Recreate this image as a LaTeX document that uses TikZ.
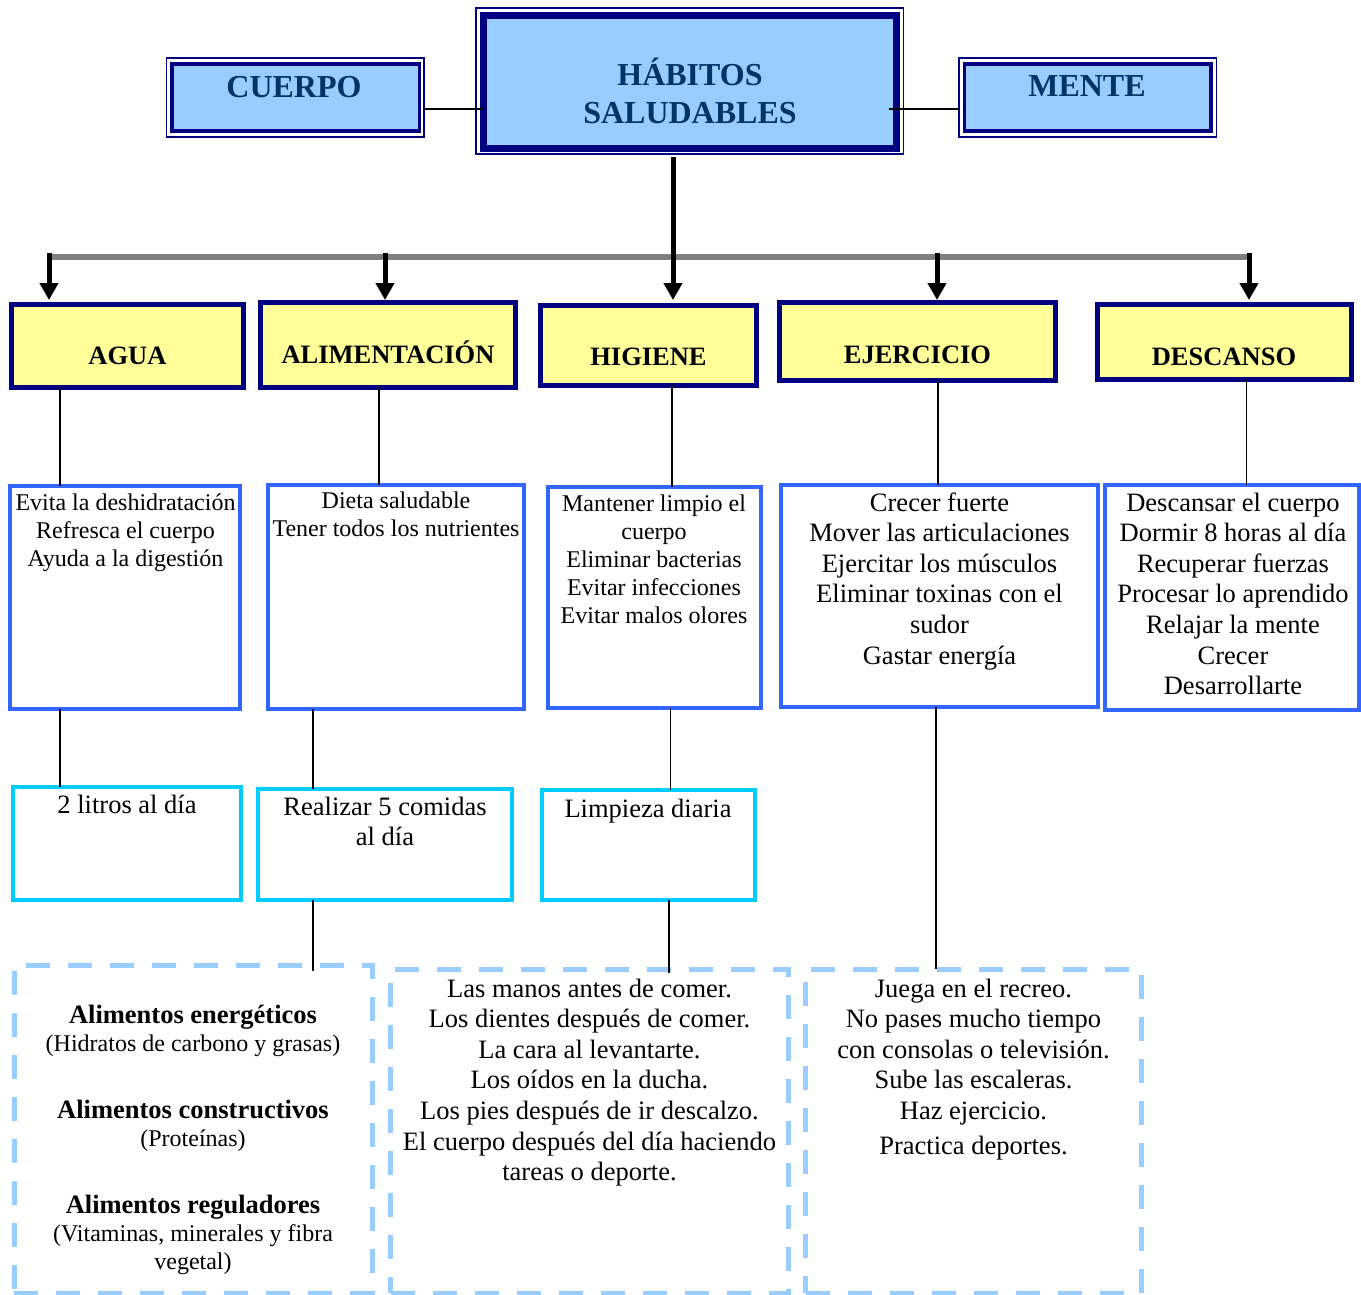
\documentclass[tikz,border=0pt]{standalone}
\usepackage{fontspec}
\setmainfont{Liberation Serif}
\usetikzlibrary{arrows.meta}
\definecolor{navy}{HTML}{000080}
\definecolor{lblue}{HTML}{99CCFF}
\definecolor{yel}{HTML}{FFFF99}
\definecolor{bstroke}{HTML}{3366FF}
\definecolor{cstroke}{HTML}{00CCFF}
\definecolor{dstroke}{HTML}{99CCFF}
\definecolor{ttl}{HTML}{003366}
\definecolor{bargray}{HTML}{808080}
\newcommand\ml[1]{\begin{tabular}[t]{@{}c@{}}#1\end{tabular}}
\newcommand\tbigf{\fontsize{26.5}{28}\selectfont\bfseries}
\newcommand\bx[6]{\node[#1, minimum width={#5-#3}, minimum height={#6-#4}] (#2) at ({(#3+#5)/2},{(#4+#6)/2}) {};}
\begin{document}
\begin{tikzpicture}[x=1pt,y=-1pt,
  every node/.style={inner sep=0pt, outer sep=0pt},
  navyout/.style={draw=navy, line width=1.5pt, fill=white},
  navyin/.style={draw=navy, line width=7pt, fill=lblue},
  navyinS/.style={draw=navy, line width=3.5pt, fill=lblue},
  ybox/.style={draw=navy, line width=5.5pt, fill=yel},
  bbox/.style={draw=bstroke, line width=4pt, fill=white},
  cbox/.style={draw=cstroke, line width=4pt, fill=white},
  dbox/.style={draw=dstroke, line width=5pt, dash pattern=on 24pt off 18pt},
  conn/.style={draw=black, line width=1.5pt},
  bar/.style={draw=bargray, line width=5.5pt},
  arr/.style={draw=black, line width=5pt, -{Triangle[width=18pt,length=17pt]}},
  ttlt/.style={anchor=base, text=ttl, font=\fontsize{32}{38}\selectfont\bfseries},
  ylab/.style={anchor=base, font=\fontsize{26.5}{30}\selectfont\bfseries},
  tsm/.style={anchor=base, font=\fontsize{24}{28}\selectfont},
  tlg/.style={anchor=base, font=\fontsize{26.5}{30.6}\selectfont},
  tgrp/.style={anchor=base, font=\fontsize{24}{28.2}\selectfont}
]
\fill[white] (0,0) rectangle (1361,1295);
\useasboundingbox (0,0) rectangle (1361,1295);

% top boxes
\bx{navyout}{habO}{476}{8}{903.5}{154}
\bx{navyin}{hab}{483.5}{15.5}{896.5}{148.5}
\node[ttlt] (habT) at (690,86) {\ml{HÁBITOS\\SALUDABLES}};
\bx{navyout}{cuO}{166.25}{58.25}{423.75}{137.25}
\bx{navyinS}{cu}{171.75}{64.25}{419.25}{131.25}
\node[ttlt] (cuT) at (294,98) {CUERPO};
\bx{navyout}{meO}{958.75}{58.25}{1216.25}{137.25}
\bx{navyinS}{me}{964.25}{64.25}{1210.75}{131.25}
\node[ttlt] (meT) at (1087,97) {MENTE};

% yellow boxes
\bx{ybox}{agY}{11.5}{304.5}{243.5}{387.5}
\bx{ybox}{alY}{260.5}{302.5}{515.5}{387.5}
\bx{ybox}{hiY}{540.5}{305.5}{756.5}{385.5}
\bx{ybox}{ejY}{779.5}{302.5}{1055.5}{380.5}
\bx{ybox}{deY}{1097.5}{304.5}{1351.5}{379.5}
\node[ylab] (agL) at (127.5,364) {AGUA};
\node[ylab] (alL) at (388,363) {ALIMENTACIÓN};
\node[ylab] (hiL) at (648.5,365) {HIGIENE};
\node[ylab] (ejL) at (917.5,363) {EJERCICIO};
\node[ylab] (deL) at (1224,365) {DESCANSO};

% blue boxes
\bx{bbox}{agB}{10}{486}{240}{709}
\bx{bbox}{alB}{268}{485}{524}{709}
\bx{bbox}{hiB}{548}{487}{761}{708}
\bx{bbox}{ejB}{781}{485}{1098}{707}
\bx{bbox}{deB}{1105}{485}{1359}{710}
\node[tsm] (agT) at (125.5,510) {\ml{Evita la deshidratación\\Refresca el cuerpo\\Ayuda a la digestión}};
\node[tsm] (alT) at (396,508) {\ml{Dieta saludable\\Tener todos los nutrientes}};
\node[tsm] (hiT) at (654,511) {\ml{Mantener limpio el\\cuerpo\\Eliminar bacterias\\Evitar infecciones\\Evitar malos olores}};
\node[tlg] (ejT) at (939.5,511) {\ml{Crecer fuerte\\Mover las articulaciones\\Ejercitar los músculos\\Eliminar toxinas con el\\sudor\\Gastar energía}};
\node[tlg] (deT) at (1233,511) {\ml{Descansar el cuerpo\\Dormir 8 horas al día\\Recuperar fuerzas\\Procesar lo aprendido\\Relajar la mente\\Crecer\\Desarrollarte}};

% cyan boxes
\bx{cbox}{agC}{13}{787}{241}{900}
\bx{cbox}{alC}{258}{789}{512}{900}
\bx{cbox}{hiC}{541.5}{790}{755}{900}
\node[tlg] (agCT) at (127,813) {2 litros al día};
\node[tlg] (alCT) at (385,815) {\ml{Realizar 5 comidas\\al día}};
\node[tlg] (hiCT) at (648,817) {Limpieza diaria};

% dashed boxes
\bx{dbox}{d1}{14}{965}{372}{1293}
\bx{dbox}{d2}{390.5}{969}{788.5}{1293}
\bx{dbox}{d3}{805.8}{969}{1141.5}{1293}
\node[tgrp] (d1a) at (193,1023.3) {\ml{{\tbigf Alimentos energéticos}\\(Hidratos de carbono y grasas)}};
\node[tgrp] (d1b) at (193,1118) {\ml{{\tbigf Alimentos constructivos}\\(Proteínas)}};
\node[tgrp] (d1c) at (193,1213) {\ml{{\tbigf Alimentos reguladores}\\(Vitaminas, minerales y fibra\\vegetal)}};
\node[tlg] (d2T) at (589.5,997) {\ml{Las manos antes de comer.\\Los dientes después de comer.\\La cara al levantarte.\\Los oídos en la ducha.\\Los pies después de ir descalzo.\\El cuerpo después del día haciendo\\tareas o deporte.}};
\node[tlg] (d3T) at (973.5,997) {\ml{Juega en el recreo.\\No pases mucho tiempo\\con consolas o televisión.\\Sube las escaleras.\\Haz ejercicio.\\[4.5pt]Practica deportes.}};

% connectors top
\coordinate (lv) at (0,109);
\draw[conn] (cuO.east |- lv) -- (hab.west |- lv);
\draw[conn] ([xshift=-7.5pt]hab.east |- lv) -- (meO.west |- lv);

% grey bar and arrows
\coordinate (g1) at (48,257);
\coordinate (g2) at (1251,257);
\draw[bar] (g1) -- (g2);
\coordinate (xh) at (673,0);
\draw[arr] ([yshift=-3pt]habO.south -| xh) -- ([yshift=5.5pt]hiY.north -| xh);
\coordinate (a1) at (49,253);
\coordinate (a2) at (385,253);
\coordinate (a4) at (937,253);
\coordinate (a5) at (1249,253);
\draw[arr] (a1) -- ([yshift=4.5pt]agY.north -| a1);
\draw[arr] (a2) -- ([yshift=2.5pt]alY.north -| a2);
\draw[arr] (a4) -- ([yshift=2.5pt]ejY.north -| a4);
\draw[arr] (a5) -- ([yshift=4.5pt]deY.north -| a5);

% thin connectors
\coordinate (x1) at (60,0);
\coordinate (x2) at (379,0);
\coordinate (x3) at (313,0);
\coordinate (x4) at (672,0);
\coordinate (x5) at (670.5,0);
\coordinate (x6) at (669,0);
\coordinate (x7) at (938,0);
\coordinate (x8) at (936,0);
\coordinate (x9) at (1246.5,0);
\draw[conn] (agY.south -| x1) -- (agB.north -| x1);
\draw[conn] (agB.south -| x1) -- (agC.north -| x1);
\draw[conn] (alY.south -| x2) -- (alB.north -| x2);
\draw[conn] (alB.south -| x3) -- (alC.north -| x3);
\draw[conn, shorten >=-6pt] (alC.south -| x3) -- (d1.north -| x3);
\draw[conn] (hiY.south -| x4) -- (hiB.north -| x4);
\draw[conn] (hiB.south -| x5) -- (hiC.north -| x5);
\draw[conn, shorten >=-4pt] (hiC.south -| x6) -- (d2.north -| x6);
\draw[conn] (ejY.south -| x7) -- (ejB.north -| x7);
\draw[conn] (ejB.south -| x8) -- (d3.north -| x8);
\draw[conn] (deY.south -| x9) -- (deB.north -| x9);
\end{tikzpicture}
\end{document}
